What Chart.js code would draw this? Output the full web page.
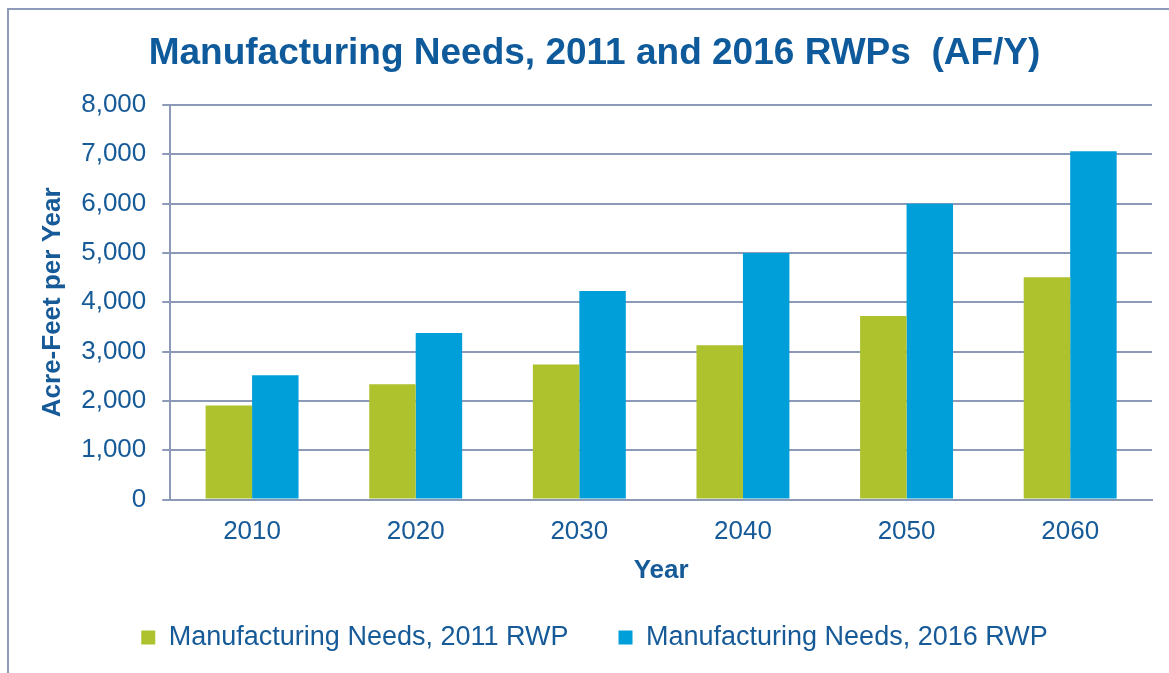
<!DOCTYPE html>
<html>
<head>
<meta charset="utf-8">
<script src="https://cdn.jsdelivr.net/npm/chart.js@4/dist/chart.umd.min.js"></script>
<style>
  html, body { margin: 0; padding: 0; background: #fff; }
  #wrap { position: relative; width: 1169px; height: 673px; overflow: hidden; }
  #frame { position: absolute; left: 7px; top: 8px; width: 1300px; height: 800px;
           border-left: 2px solid #8E9AB9; border-top: 2px solid #8E9AB9; }
  canvas { position: absolute; left: 0; top: 0; }
</style>
</head>
<body>
<div id="wrap">
  <div id="frame"></div>
  <canvas id="chart" width="1169" height="673"></canvas>
</div>
<script>
const years = ["2010", "2020", "2030", "2040", "2050", "2060"];
const needs2011 = [1910, 2340, 2740, 3130, 3720, 4510];
const needs2016 = [2520, 3380, 4230, 5000, 6000, 7060];

const textBlue = "#165A98";
const gridColor = "#8C9AB7";
const font = "'Liberation Sans', Arial, sans-serif";

const ctx = document.getElementById("chart").getContext("2d");

new Chart(ctx, {
  type: "bar",
  data: {
    labels: years,
    datasets: [
      {
        label: "Manufacturing Needs, 2011 RWP",
        data: needs2011,
        backgroundColor: "#ADC22C",
      },
      {
        label: "Manufacturing Needs, 2016 RWP",
        data: needs2016,
        backgroundColor: "#009FD9",
      },
    ],
  },
  options: {
    responsive: false,
    animation: false,
    layout: {
      padding: { left: 37, right: 17, top: 0, bottom: 12 },
    },
    datasets: {
      bar: { categoryPercentage: 0.568, barPercentage: 1.0 },
    },
    scales: {
      x: {
        grid: { display: false, drawTicks: false },
        border: { color: gridColor, width: 2 },
        ticks: { color: textBlue, font: { family: font, size: 26 }, padding: 17 },
        title: {
          display: true,
          text: "Year",
          color: textBlue,
          font: { family: font, size: 26, weight: "bold" },
          padding: { top: -10, bottom: -12 },
        },
      },
      y: {
        min: 0,
        max: 8000,
        ticks: {
          stepSize: 1000,
          color: textBlue,
          font: { family: font, size: 26 },
          padding: 16,
        },
        grid: { color: gridColor, lineWidth: 2, tickLength: 8 },
        border: { color: gridColor, width: 2 },
        title: {
          display: true,
          text: "Acre-Feet per Year",
          color: textBlue,
          font: { family: font, size: 26, weight: "bold" },
          padding: { top: 0, bottom: -3 },
        },
      },
    },
    plugins: {
      title: {
        display: true,
        text: "Manufacturing Needs, 2011 and 2016 RWPs  (AF/Y)",
        color: "#0E5A9B",
        font: { family: font, size: 37, weight: "bold" },
        padding: { top: 32, bottom: 28.6 },
      },
      legend: {
        position: "bottom",
        labels: {
          color: textBlue,
          font: { family: font, size: 27 },
          boxWidth: 14,
          boxHeight: 14,
          padding: 50,
        },
      },
      tooltip: { enabled: false },
    },
  },
});
</script>
</body>
</html>
